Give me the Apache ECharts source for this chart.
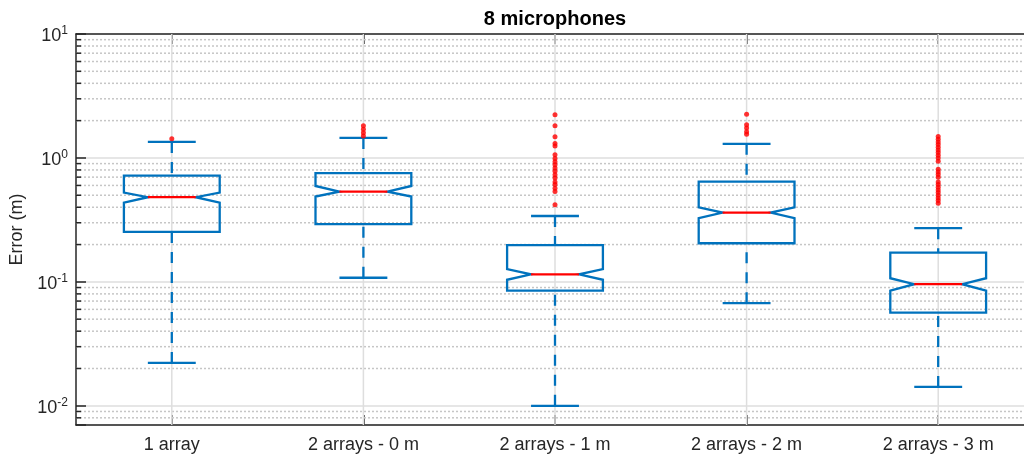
<!DOCTYPE html>
<html>
<head>
<meta charset="utf-8">
<title>8 microphones</title>
<script src="https://cdn.jsdelivr.net/npm/echarts@6/dist/echarts.min.js"></script>
<style>
  html, body { margin: 0; padding: 0; background: #ffffff; }
  #chart { width: 1024px; height: 455px; }
</style>
</head>
<body>
<div id="chart"></div>
<script>
// Categories (array configurations)
const categories = ['1 array', '2 arrays - 0 m', '2 arrays - 1 m', '2 arrays - 2 m', '2 arrays - 3 m'];

// Notched box statistics for each configuration, error in metres
const whiskerLow  = [0.0222, 0.108, 0.0100, 0.0673, 0.0142];
const q1          = [0.253, 0.292, 0.085, 0.205, 0.0565];
const notchLow    = [0.436, 0.488, 0.104, 0.327, 0.085];
const median      = [0.482, 0.535, 0.115, 0.362, 0.0958];
const notchHigh   = [0.525, 0.594, 0.127, 0.400, 0.107];
const q3          = [0.720, 0.753, 0.198, 0.644, 0.172];
const whiskerHigh = [1.346, 1.45, 0.340, 1.30, 0.271];

// Outliers per configuration
const outliers1 = [1.43];
const outliers2 = [1.82, 1.70, 1.60, 1.50];
const outliers3 = [2.23, 1.82, 1.48, 1.31, 1.25, 1.06, 0.99, 0.93, 0.88, 0.83, 0.78, 0.73, 0.69, 0.64, 0.61, 0.57, 0.535, 0.42];
const outliers4 = [2.25, 1.85, 1.74, 1.63, 1.55];
const outliers5 = [1.486, 1.414, 1.346, 1.281, 1.219, 1.160, 1.104, 1.051, 1.0, 0.940, 0.810, 0.771, 0.734, 0.698, 0.640, 0.610, 0.580, 0.552, 0.525, 0.500, 0.476, 0.453, 0.431];
const outliers = [outliers1, outliers2, outliers3, outliers4, outliers5];

// Log axis range and tick layout
const yMin = 0.007, yMax = 10;
const decades = [0.001, 0.01, 0.1, 1];
const minorSteps = [2, 3, 4, 5, 6, 7, 8, 9];

const FONT = "'Liberation Sans', Arial, Helvetica, sans-serif";
const AXIS_COLOR = '#262626';
const BLUE = '#0072BD';
const RED = '#ff0000';

// plot box geometry; it runs a little past the right edge of the canvas
const GRID = { left: 76, top: 34, width: 958, bottom: 30 };

const minorValues = [];
decades.forEach(d => minorSteps.forEach(s => {
  const v = +(d * s).toPrecision(6);
  if (v > yMin * 1.0001 && v < yMax * 0.9999) minorValues.push(v);
}));

const boxData = categories.map((c, i) => [i, whiskerLow[i], q1[i], notchLow[i], median[i], notchHigh[i], q3[i], whiskerHigh[i]]);
const outlierData = [];
outliers.forEach((arr, i) => arr.forEach(v => outlierData.push([i, v])));

const chart = echarts.init(document.getElementById('chart'), null, { renderer: 'canvas' });

function catAxis(position, showLabel) {
  return {
    type: 'category',
    position: position,
    data: categories,
    boundaryGap: true,
    axisLine: { show: true, lineStyle: { color: AXIS_COLOR, width: 1.5 } },
    axisTick: { show: true, inside: true, length: 10, alignWithLabel: true, lineStyle: { color: AXIS_COLOR, width: 1.5 } },
    axisLabel: { show: showLabel, fontSize: 18, color: AXIS_COLOR, fontFamily: FONT, margin: 11 },
    splitLine: { show: false }
  };
}

chart.setOption({
  animation: false,
  backgroundColor: '#ffffff',
  // title centred over the plot box
  graphic: [{
    type: 'text',
    x: GRID.left + GRID.width / 2,
    y: 19,
    silent: true,
    style: {
      text: '8 microphones',
      textAlign: 'center',
      textVerticalAlign: 'middle',
      fontSize: 20,
      fontWeight: 'bold',
      fontFamily: FONT,
      fill: '#000000'
    }
  }],
  grid: { left: GRID.left, top: GRID.top, width: GRID.width, bottom: GRID.bottom, containLabel: false, outerBoundsMode: 'none' },
  xAxis: [catAxis('bottom', true), catAxis('top', false)],
  yAxis: {
    type: 'log',
    logBase: 10,
    min: yMin,
    max: yMax,
    name: 'Error (m)',
    nameLocation: 'middle',
    nameGap: 50,
    nameTextStyle: { fontSize: 18, color: AXIS_COLOR, fontFamily: FONT },
    axisLine: { show: true, lineStyle: { color: AXIS_COLOR, width: 1.5 } },
    axisTick: { show: true, inside: true, length: 10, lineStyle: { color: AXIS_COLOR, width: 1.5 } },
    axisLabel: {
      margin: 8,
      fontFamily: FONT,
      color: AXIS_COLOR,
      formatter: function (v) {
        const e = Math.log10(v);
        const r = Math.round(e);
        if (Math.abs(e - r) > 1e-6) return '';
        return '{b|10}{s|' + r + '}';
      },
      rich: {
        b: { fontSize: 18, lineHeight: 18, padding: [5, 0, 0, 0], color: AXIS_COLOR, fontFamily: FONT },
        s: { fontSize: 12, lineHeight: 12, verticalAlign: 'top', color: AXIS_COLOR, fontFamily: FONT }
      }
    },
    splitLine: { show: true, lineStyle: { color: '#dedede', width: 1.5 } }
  },
  series: [
    {
      // minor log grid lines and minor ticks
      type: 'custom',
      silent: true,
      z: 1,
      data: minorValues.map(v => [0, v]),
      encode: { x: 0, y: 1 },
      renderItem: function (params, api) {
        const cs = params.coordSys;
        const y = api.coord([0, api.value(1)])[1];
        return {
          type: 'group',
          children: [
            { type: 'line', shape: { x1: cs.x, y1: y, x2: cs.x + cs.width, y2: y },
              style: { stroke: '#c6c6c6', lineWidth: 1.5, lineDash: [2, 2] } },
            { type: 'line', shape: { x1: cs.x, y1: y, x2: cs.x + 5, y2: y },
              style: { stroke: AXIS_COLOR, lineWidth: 1.5 } }
          ]
        };
      }
    },
    {
      // notched boxes with whiskers
      type: 'custom',
      silent: true,
      z: 3,
      data: boxData,
      encode: { x: 0, y: [1, 2, 3, 4, 5, 6, 7] },
      renderItem: function (params, api) {
        const cs = params.coordSys;
        const i = api.value(0);
        const cx = api.coord([i, 1])[0];
        const bw = (cs.width / categories.length) * 0.5;
        const L = cx - bw / 2, R = cx + bw / 2, nL = cx - bw / 4, nR = cx + bw / 4;
        const yv = k => api.coord([i, api.value(k)])[1];
        const wLo = yv(1), yq1 = yv(2), nLo = yv(3), med = yv(4), nHi = yv(5), yq3 = yv(6), wHi = yv(7);
        const dash = [11, 9];
        const lw = 2.3;
        return {
          type: 'group',
          children: [
            { type: 'line', shape: { x1: cx, y1: cs.y, x2: cx, y2: cs.y + cs.height },
              style: { stroke: '#dedede', lineWidth: 1.5 } },
            { type: 'line', shape: { x1: cx, y1: wHi, x2: cx, y2: yq3 },
              style: { stroke: BLUE, lineWidth: lw, lineDash: dash } },
            { type: 'line', shape: { x1: cx, y1: wLo, x2: cx, y2: yq1 },
              style: { stroke: BLUE, lineWidth: lw, lineDash: dash } },
            { type: 'line', shape: { x1: nL, y1: wHi, x2: nR, y2: wHi },
              style: { stroke: BLUE, lineWidth: lw } },
            { type: 'line', shape: { x1: nL, y1: wLo, x2: nR, y2: wLo },
              style: { stroke: BLUE, lineWidth: lw } },
            { type: 'polygon',
              shape: { points: [[L, yq1], [L, nLo], [nL, med], [L, nHi], [L, yq3], [R, yq3], [R, nHi], [nR, med], [R, nLo], [R, yq1]] },
              style: { fill: 'none', stroke: BLUE, lineWidth: lw, lineJoin: 'miter' } },
            { type: 'line', shape: { x1: nL, y1: med, x2: nR, y2: med },
              style: { stroke: RED, lineWidth: lw } }
          ]
        };
      }
    },
    {
      // outliers
      type: 'scatter',
      z: 4,
      silent: true,
      symbol: 'circle',
      symbolSize: 5,
      itemStyle: { color: RED },
      data: outlierData
    }
  ]
});
</script>
</body>
</html>
